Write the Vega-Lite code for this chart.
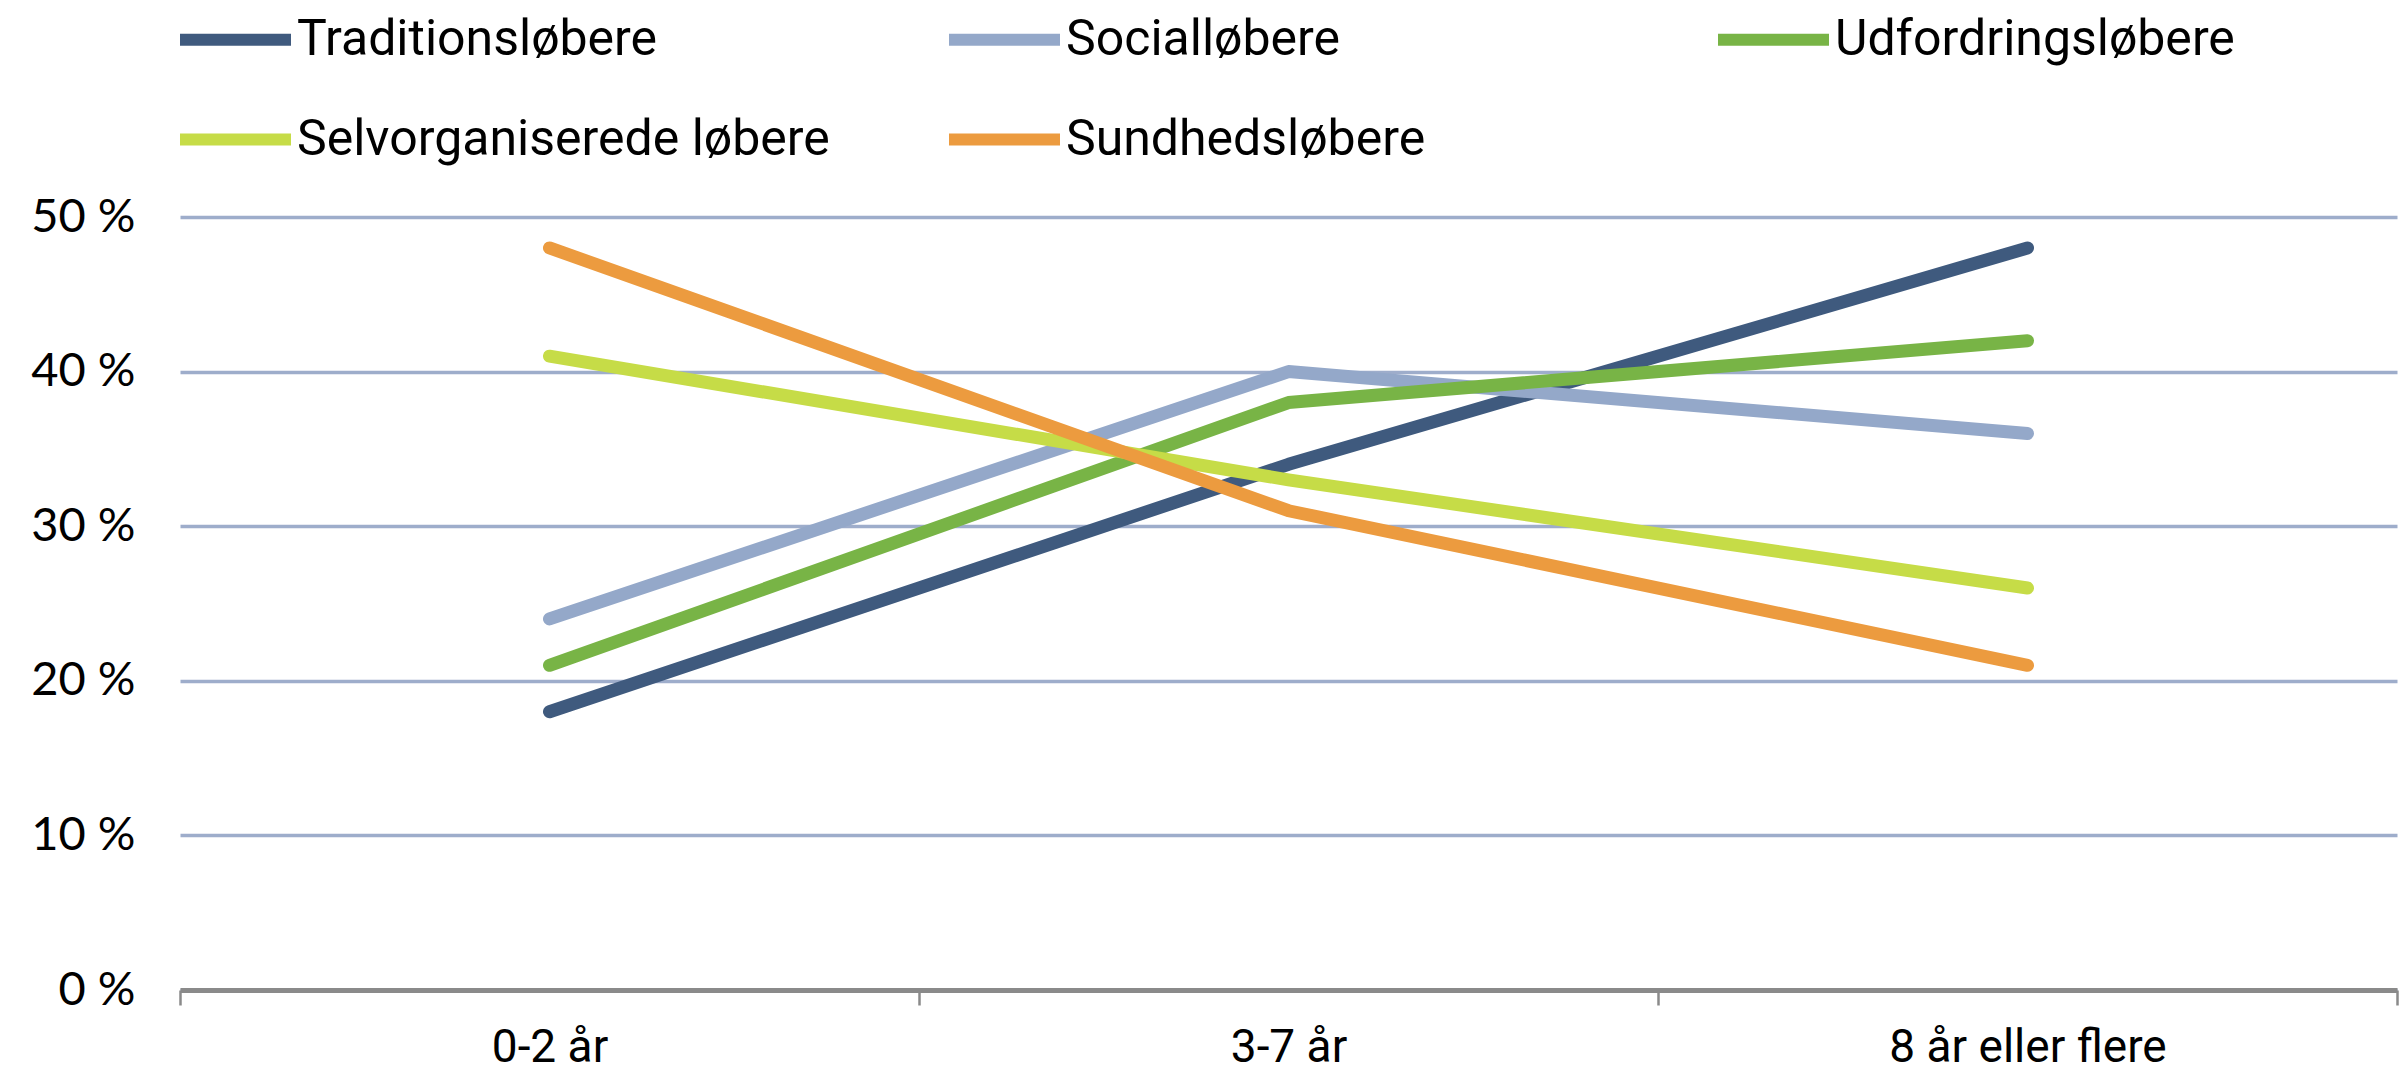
{
  "$schema": "https://vega.github.io/schema/vega-lite/v6.json",
  "width": 2217,
  "height": 773,
  "autosize": {"type": "none"},
  "padding": {"left": 180, "top": 217, "right": 2, "bottom": 91},
  "background": "white",
  "config": {"view": {"stroke": null}, "font": "Roboto"},
  "data": {
    "values": [
      {"type": "Traditionsløbere", "periode": "0-2 år", "andel": 18},
      {"type": "Traditionsløbere", "periode": "3-7 år", "andel": 34},
      {"type": "Traditionsløbere", "periode": "8 år eller flere", "andel": 48},
      {"type": "Socialløbere", "periode": "0-2 år", "andel": 24},
      {"type": "Socialløbere", "periode": "3-7 år", "andel": 40},
      {"type": "Socialløbere", "periode": "8 år eller flere", "andel": 36},
      {"type": "Udfordringsløbere", "periode": "0-2 år", "andel": 21},
      {"type": "Udfordringsløbere", "periode": "3-7 år", "andel": 38},
      {"type": "Udfordringsløbere", "periode": "8 år eller flere", "andel": 42},
      {"type": "Selvorganiserede løbere", "periode": "0-2 år", "andel": 41},
      {"type": "Selvorganiserede løbere", "periode": "3-7 år", "andel": 33},
      {"type": "Selvorganiserede løbere", "periode": "8 år eller flere", "andel": 26},
      {"type": "Sundhedsløbere", "periode": "0-2 år", "andel": 48},
      {"type": "Sundhedsløbere", "periode": "3-7 år", "andel": 31},
      {"type": "Sundhedsløbere", "periode": "8 år eller flere", "andel": 21}
    ]
  },
  "mark": {"type": "line", "strokeWidth": 13, "strokeCap": "round", "strokeJoin": "round"},
  "encoding": {
    "x": {
      "field": "periode",
      "type": "nominal",
      "sort": ["0-2 år", "3-7 år", "8 år eller flere"],
      "scale": {"type": "band", "paddingInner": 0, "paddingOuter": 0},
      "axis": {
        "title": null,
        "labelAngle": 0,
        "labelFontSize": 46,
        "labelColor": "black",
        "labelPadding": 20,
        "labelLimit": 1000,
        "domainColor": "#8a8a8a",
        "domainWidth": 5,
        "ticks": true,
        "tickBand": "extent",
        "tickColor": "#8a8a8a",
        "tickWidth": 2.5,
        "tickSize": 15,
        "grid": false
      }
    },
    "y": {
      "field": "andel",
      "type": "quantitative",
      "scale": {"domain": [0, 50], "nice": false},
      "axis": {
        "title": null,
        "values": [0, 10, 20, 30, 40, 50],
        "labelExpr": "datum.value + ' %'",
        "labelFont": "Lato",
        "labelFontSize": 47,
        "labelColor": "black",
        "labelPadding": 45,
        "domain": false,
        "ticks": false,
        "grid": true,
        "gridColor": "#9eadcb",
        "gridWidth": 3.5
      }
    },
    "color": {
      "field": "type",
      "type": "nominal",
      "sort": ["Traditionsløbere", "Socialløbere", "Udfordringsløbere", "Selvorganiserede løbere", "Sundhedsløbere"],
      "scale": {
        "domain": ["Traditionsløbere", "Socialløbere", "Udfordringsløbere", "Selvorganiserede løbere", "Sundhedsløbere"],
        "range": ["#3f5a7e", "#94a8c9", "#78b446", "#c6dc47", "#ec9b3f"]
      },
      "legend": {
        "title": null,
        "orient": "none",
        "direction": "horizontal",
        "legendX": -6,
        "legendY": -239,
        "columns": 3,
        "gridAlign": "all",
        "columnPadding": 95,
        "rowPadding": 13,
        "symbolType": "stroke",
        "symbolSize": 12321,
        "symbolStrokeWidth": 12,
        "labelFontSize": 50,
        "labelOffset": 0,
        "labelLimit": 1000,
        "labelColor": "black"
      }
    }
  }
}
